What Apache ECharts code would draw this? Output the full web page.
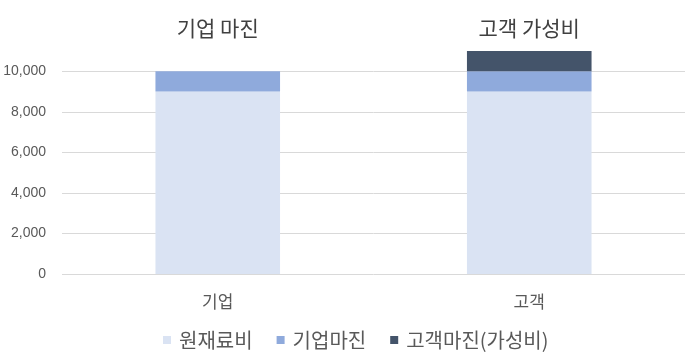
<!DOCTYPE html>
<html><head><meta charset="utf-8">
<script src="https://cdn.jsdelivr.net/npm/echarts@6/dist/echarts.min.js"></script>
<style>html,body{margin:0;padding:0;background:#fff}#c{width:690px;height:362px}</style>
</head><body><div id="c"></div>
<script>
const categories = ['기업', '고객'];
const topTitles = ['기업 마진', '고객 가성비'];
const seriesNames = ['원재료비', '기업마진', '고객마진(가성비)'];
const rawCost = [9000, 9000];
const companyMargin = [1000, 1000];
const customerMargin = [0, 1000];
const yTicks = [0, 2000, 4000, 6000, 8000, 10000];

const colors = ['#DAE3F3', '#8FAADC', '#44546A'];
const font = '"Noto Sans CJK KR", "Noto Sans", sans-serif';
const chart = echarts.init(document.getElementById('c'));
const values = [rawCost, companyMargin, customerMargin];
chart.setOption({
  animation: false,
  color: colors,
  textStyle: {fontFamily: font},
  grid: {left: 62, right: 5, top: 51, bottom: 88},
  legend: {
    bottom: 7, left: 158, itemWidth: 8, itemHeight: 8, itemGap: 24, icon: 'rect',
    textStyle: {fontSize: 20, color: '#595959', fontFamily: font, padding: [0, 0, 0, 3]},
    data: seriesNames
  },
  xAxis: [{
    type: 'category', data: categories, position: 'bottom',
    axisLine: {show: false}, axisTick: {show: false},
    axisLabel: {fontSize: 17, color: '#595959', margin: 19, fontFamily: font}
  }, {
    type: 'category', data: topTitles, position: 'top',
    axisLine: {show: false}, axisTick: {show: false},
    axisLabel: {fontSize: 21, color: '#404040', margin: 12, fontFamily: font}
  }],
  yAxis: {
    type: 'value', min: yTicks[0], max: 11000, interval: yTicks[1] - yTicks[0],
    axisLine: {show: false}, axisTick: {show: false},
    splitLine: {lineStyle: {color: yTicks.map(() => '#D9D9D9').concat(['rgba(0,0,0,0)']), width: 1}},
    axisLabel: {
      fontSize: 14, color: '#595959', margin: 16, fontFamily: '"Liberation Sans", Arial, sans-serif',
      formatter: v => yTicks.includes(v) ? v.toLocaleString('en-US') : ''
    }
  },
  series: seriesNames.map((n, i) => ({
    name: n, type: 'bar', stack: 'total', barWidth: '40%', data: values[i], xAxisIndex: 0
  }))
});
</script></body></html>
